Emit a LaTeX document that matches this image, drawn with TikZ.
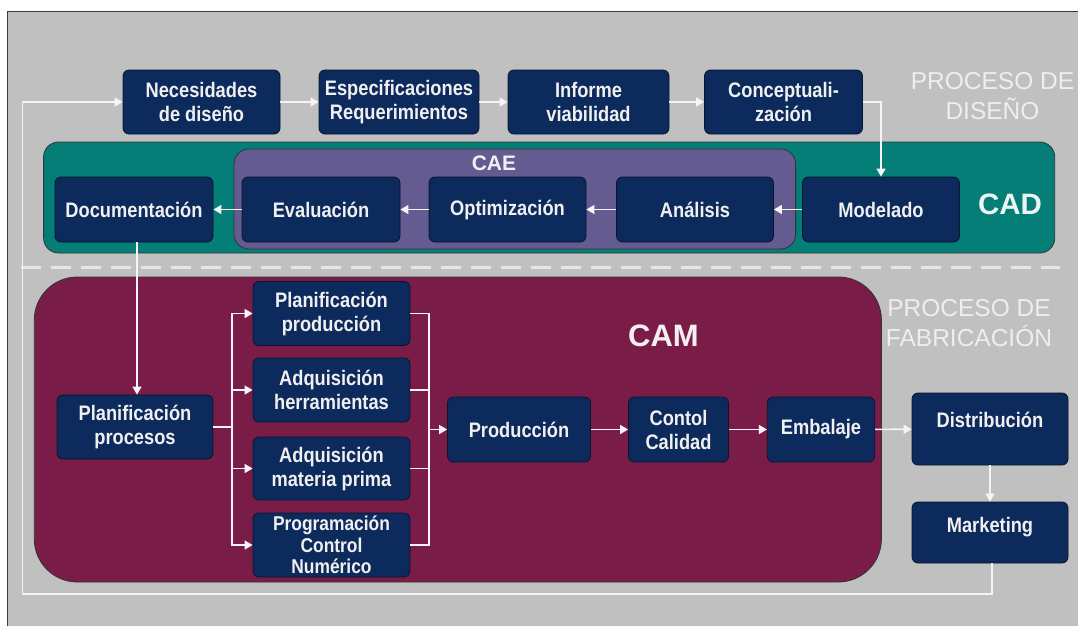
\documentclass[tikz,border=0pt]{standalone}
\usepackage{fontspec}
\setmainfont{Liberation Sans}[FakeStretch=0.87]
\newfontfamily\widesf{Liberation Sans}
\usetikzlibrary{arrows.meta}

\definecolor{bggray}{RGB}{192,192,192}
\definecolor{framec}{RGB}{60,60,60}
\definecolor{navy}{RGB}{12,42,92}
\definecolor{boxedge}{RGB}{10,20,45}
\definecolor{cadteal}{RGB}{4,126,118}
\definecolor{caepurple}{RGB}{100,92,145}
\definecolor{cammaroon}{RGB}{122,28,72}
\definecolor{txtc}{RGB}{240,240,240}
\definecolor{arrowc}{RGB}{246,244,246}
\definecolor{dashc}{RGB}{230,230,230}
\definecolor{lblc}{RGB}{238,238,238}

\tikzset{
  box/.style={draw=boxedge, fill=navy, rounded corners=6pt, line width=0.8pt,
    text=txtc, align=center, inner sep=1pt,
    font=\fontsize{21}{24}\selectfont\bfseries},
  region/.style={draw=black!80, line width=0.8pt},
  flow/.style={draw=arrowc, line width=1.6pt, -{Triangle[length=8pt,width=9pt]}},
  link/.style={draw=arrowc, line width=1.6pt},
  loop/.style={draw=arrowc, line width=1.3pt, -{Triangle[length=8pt,width=9pt]}},
  phase/.style={text=lblc, align=center, font=\widesf\fontsize{24.5}{30.5}\selectfont},
}

\begin{document}
\begin{tikzpicture}[x=1pt,y=-1pt]
\useasboundingbox (0,0) rectangle (1078,626);
% page and frame
\fill[white] (0,0) rectangle (1078,626);
\fill[bggray] (7.5,11.3) rectangle (1078,626);
\draw[framec, line width=1.5pt] (7.5,626) -- (7.5,11.3) -- (1078,11.3);

% grouping areas
\filldraw[region, fill=cadteal, rounded corners=15pt] (43.6,142) rectangle (1054.7,253);
\filldraw[region, fill=caepurple, rounded corners=15pt] (234,149) rectangle (795.6,249);
\filldraw[region, fill=cammaroon, rounded corners=43pt] (34.3,277) rectangle (881.4,582);

% separator between design and manufacturing
\draw[dashc, line width=3pt, dash pattern=on 20pt off 10pt] (20.6,267) -- (1060,267);

% area labels
\node[text=white!92!cadteal, font=\widesf\fontsize{29.5}{30}\selectfont\bfseries] (cadlbl) at (1010,204) {CAD};
\node[text=white!90!caepurple, font=\widesf\fontsize{21}{22}\selectfont\bfseries] (caelbl) at (494,163.5) {CAE};
\node[text=white!93!cammaroon, font=\widesf\fontsize{31}{32}\selectfont\bfseries] (camlbl) at (663.5,336) {CAM};
\node[phase] (disenolbl) at (992.5,96) {PROCESO DE\\DISEÑO};
\node[phase] (fablbl) at (969,323) {PROCESO DE\\FABRICACIÓN};

% design process
\node[box, minimum width=157pt, minimum height=64pt] (nec) at (201.5,102) {Necesidades\\de diseño};
\node[box, minimum width=160pt, minimum height=64pt] (esp) at (399,102) {Especificaciones\\Requerimientos};
\node[box, minimum width=161pt, minimum height=64pt] (inf) at (588.5,102) {Informe\\viabilidad};
\node[box, minimum width=158pt, minimum height=64pt] (con) at (783.5,102) {Conceptuali-\\zación};

\node[box, minimum width=158pt, minimum height=65pt] (doc) at (134,209.5) {Documentación};
\node[box, minimum width=158pt, minimum height=65pt] (eva) at (321,209.5) {Evaluación};
\node[box, minimum width=157pt, minimum height=65pt] (opt) at (507.5,209.5) {Optimización};
\node[box, minimum width=157pt, minimum height=65pt] (ana) at (695,209.5) {Análisis};
\node[box, minimum width=157pt, minimum height=65pt] (mod) at (881,209.5) {Modelado};

% manufacturing process
\node[box, minimum width=156pt, minimum height=64pt] (pp) at (135,427) {Planificación\\procesos};
\node[box, minimum width=157pt, minimum height=64pt] (pprod) at (331.5,313.5) {Planificación\\producción};
\node[box, minimum width=157pt, minimum height=64pt] (aher) at (331.5,390) {Adquisición\\herramientas};
\node[box, minimum width=157pt, minimum height=63pt] (amat) at (331.5,468.5) {Adquisición\\materia prima};
\node[box, minimum width=157pt, minimum height=64pt, font=\fontsize{20}{21.5}\selectfont\bfseries] (prog) at (331.5,545) {Programación\\Control\\Numérico};
\node[box, minimum width=143pt, minimum height=65pt] (prod) at (519,429.5) {Producción};
\node[box, minimum width=100pt, minimum height=65pt] (cal) at (678.5,429.5) {Contol\\Calidad};
\node[box, minimum width=107.5pt, minimum height=65pt] (emb) at (821,429.5) {Embalaje};
\node[box, minimum width=156pt, minimum height=72pt] (dis) at (990,429) {\raisebox{9pt}[\height][\depth]{Distribución}};
\node[box, minimum width=156pt, minimum height=61pt] (mkt) at (990,532.5) {\raisebox{5pt}[\height][\depth]{Marketing}};

% design flow
\draw[flow] (nec) -- (esp);
\draw[flow] (esp) -- (inf);
\draw[flow] (inf) -- (con);
\draw[flow] (con.east) -| (mod.north);
\draw[flow] (mod) -- (ana);
\draw[flow] (ana) -- (opt);
\draw[flow] (opt) -- (eva);
\draw[flow] (eva) -- (doc);
\draw[flow] (doc.south) ++(3,0) coordinate (dout) -- (dout |- pp.north);

% planning branches
\coordinate (bl) at (232,427);
\coordinate (br) at (429,429.5);
\draw[link] (pp.east) -- (bl);
\draw[flow] (bl) |- (pprod.west);
\draw[flow] (bl) |- (aher.west);
\draw[flow] (bl) |- (amat.west);
\draw[flow] (bl) |- (prog.west);
\draw[link] (pprod.east) -| (br);
\draw[link] (aher.east) -| (br);
\draw[link] (amat.east) -| (br);
\draw[link] (prog.east) -| (br);
\draw[flow] (br) -- (prod.west);

% production line
\draw[flow] (prod) -- (cal);
\draw[flow] (cal) -- (emb);
\draw[flow] (emb) -- (dis);
\draw[flow] (dis) -- (mkt);

% feedback loop back to design needs
\coordinate (lb) at (22.5,594);
\draw[loop] (mkt.south) ++(2,0) coordinate (mout) |- (lb) |- (nec.west);
\end{tikzpicture}
\end{document}
